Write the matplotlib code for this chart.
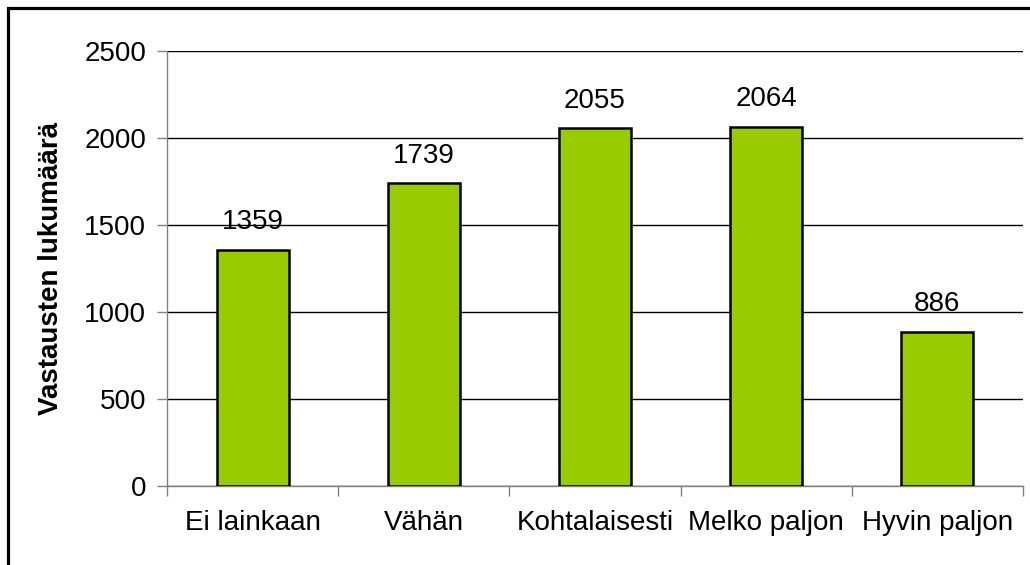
import matplotlib.pyplot as plt
import matplotlib.patches as patches
import numpy as np

plt.rcParams['font.family'] = ['Liberation Sans', 'DejaVu Sans']

categories = ['Ei lainkaan', 'Vähän', 'Kohtalaisesti', 'Melko paljon', 'Hyvin paljon']
counts = [1359, 1739, 2055, 2064, 886]
y_ticks = [0, 500, 1000, 1500, 2000, 2500]
y_label = 'Vastausten lukumäärä'

bar_color = '#99CC00'
spine_gray = '#808080'
fs = 20

if __name__ == '__main__':
    fig = plt.figure(figsize=(10.3, 5.65), dpi=100)
    ax = fig.add_axes([0.1621, 0.1398, 0.8311, 0.7699])

    x = np.arange(len(categories))
    bars = ax.bar(x, counts, width=0.42, color=bar_color, edgecolor='black',
                  linewidth=1.8, zorder=3)

    for xi, v in zip(x, counts):
        ax.annotate(str(v), (xi, v), xytext=(0, 15), textcoords='offset points',
                    ha='center', va='baseline', fontsize=fs)

    ax.set_xlim(-0.5, len(categories) - 0.5)
    ax.set_ylim(0, 2500)
    ax.set_yticks(y_ticks)
    ax.set_yticklabels([str(t) for t in y_ticks], fontsize=fs)

    # labels at the centres, tick marks between the categories
    ax.set_xticks(x)
    ax.set_xticklabels(categories, fontsize=fs)
    ax.set_xticks(np.arange(-0.5, len(categories), 1.0), minor=True)
    ax.tick_params(axis='x', which='major', length=0, pad=17)
    ax.tick_params(axis='x', which='minor', length=7, width=1.0, color=spine_gray, direction='out')
    ax.tick_params(axis='y', length=7, width=1.0, color=spine_gray, direction='out', pad=8)

    ax.yaxis.grid(True, color='black', linewidth=1.0)
    ax.set_axisbelow(True)

    ax.spines['top'].set_visible(False)
    ax.spines['right'].set_visible(False)
    ax.spines['left'].set_color(spine_gray)
    ax.spines['bottom'].set_color(spine_gray)
    ax.spines['left'].set_linewidth(1.0)
    ax.spines['bottom'].set_linewidth(1.0)

    ax.set_ylabel(y_label, fontsize=fs, fontweight='bold')
    ax.yaxis.set_label_coords(-0.12, 0.5)

    # outer chart frame, cut off at the right and bottom edges
    frame = patches.Rectangle((0.0073, -0.1), 1.2, 1.085, transform=fig.transFigure,
                              fill=False, edgecolor='black', linewidth=2.3, clip_on=False)
    fig.patches.append(frame)

    plt.savefig('out.png', dpi=100)
